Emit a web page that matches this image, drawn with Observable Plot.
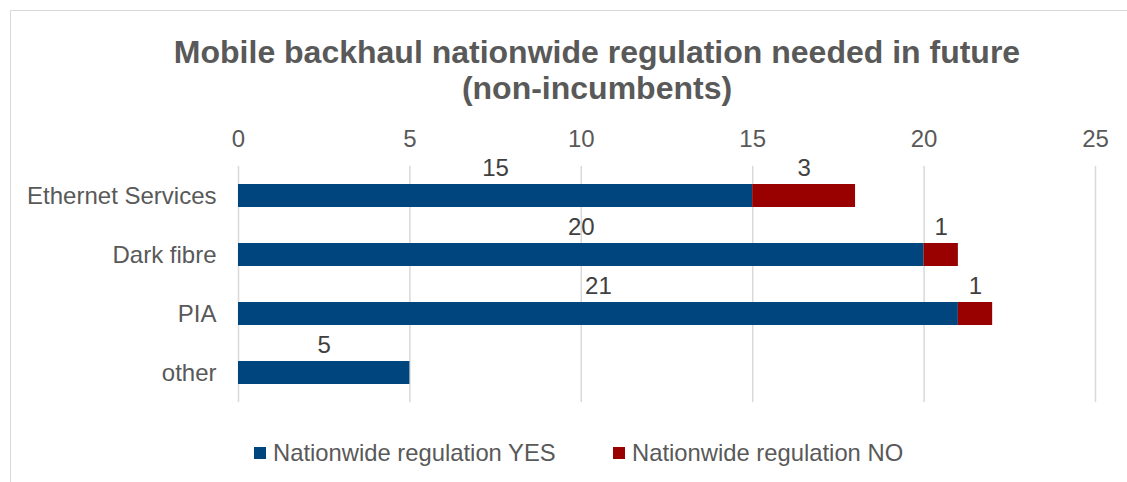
<!DOCTYPE html>
<html>
<head>
<meta charset="utf-8">
<script src="https://cdn.jsdelivr.net/npm/d3@7"></script>
<script src="https://cdn.jsdelivr.net/npm/@observablehq/plot@0.6"></script>
<style>
  html, body { margin: 0; padding: 0; background: #fff; }
  #wrap { position: relative; width: 1127px; height: 482px; overflow: hidden; font-family: "Liberation Sans", Arial, sans-serif; }
  #frame { position: absolute; left: 10px; top: 10px; width: 1300px; height: 700px; border-left: 1.5px solid #d9d9d9; border-top: 1.5px solid #d9d9d9; }
  #title { position: absolute; left: 67px; width: 1060px; top: 34px; text-align: center; font-weight: bold; font-size: 32px; line-height: 36px; color: #595959; }
  #chart { position: absolute; left: 0; top: 0; }
  #legend { position: absolute; top: 440px; left: 0; height: 26px; width: 1127px; }
  .lg { position: absolute; top: 0; height: 26px; display: flex; align-items: center; font-size: 23.8px; color: #595959; white-space: nowrap; }
  .sw { width: 12px; height: 12px; margin-right: 7px; }
</style>
</head>
<body>
<div id="wrap">
  <div id="frame"></div>
  <div id="chart"></div>
  <div id="title">Mobile backhaul nationwide regulation needed in future<br>(non-incumbents)</div>
  <div id="legend"></div>
</div>
<script>
const categories = ["Ethernet Services", "Dark fibre", "PIA", "other"];
const seriesNames = ["Nationwide regulation YES", "Nationwide regulation NO"];
const yesValues = [15, 20, 21, 5];
const noValues = [3, 1, 1, null];
const xTicks = [0, 5, 10, 15, 20, 25];
const seriesColors = ["#00457E", "#990000"];

const rows = [];
categories.forEach((c, i) => {
  rows.push({category: c, series: seriesNames[0], value: yesValues[i]});
  if (noValues[i] != null) rows.push({category: c, series: seriesNames[1], value: noValues[i]});
});

const chart = Plot.plot({
  width: 1127,
  height: 420,
  marginTop: 166,
  marginBottom: 18,
  marginLeft: 238,
  marginRight: 32,
  style: {fontFamily: '"Liberation Sans", Arial, sans-serif', fontSize: "24px", color: "#595959", background: "transparent", overflow: "visible"},
  x: {domain: [0, 25], label: null},
  y: {domain: categories, paddingInner: 0.61, paddingOuter: 0.305, label: null},
  color: {domain: seriesNames, range: seriesColors},
  marks: [
    Plot.gridX(xTicks, {stroke: "#d9d9d9", strokeOpacity: 1, strokeWidth: 1.5}),
    Plot.axisX(xTicks, {anchor: "top", tickSize: 0, tickPadding: 20, fill: "#595959", label: null}),
    Plot.axisY({tickSize: 0, tickPadding: 22, fill: "#595959", label: null}),
    Plot.barX(rows, {y: "category", x: "value", fill: "series"}),
    Plot.text(rows, Plot.stackX({y: "category", x: "value", text: d => String(d.value), dy: -28, fill: "#404040"}))
  ]
});
document.getElementById("chart").appendChild(chart);

const legend = document.getElementById("legend");
const legendLefts = [254, 613];
seriesNames.forEach((s, i) => {
  const item = document.createElement("div");
  item.className = "lg";
  item.style.left = legendLefts[i] + "px";
  const sw = document.createElement("div");
  sw.className = "sw";
  sw.style.background = seriesColors[i];
  item.appendChild(sw);
  item.appendChild(document.createTextNode(s));
  legend.appendChild(item);
});
</script>
</body>
</html>
